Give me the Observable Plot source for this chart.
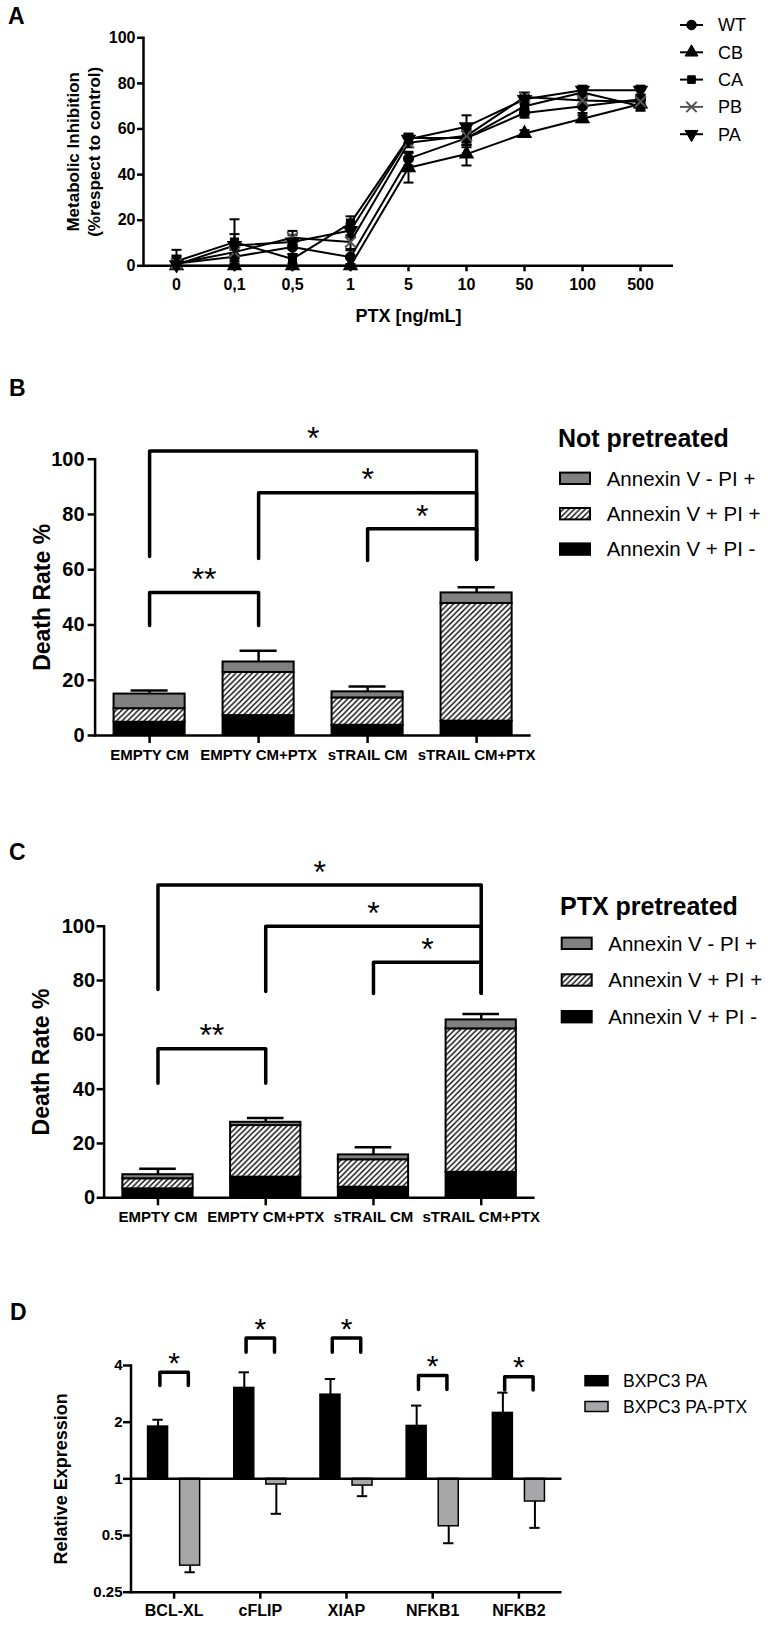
<!DOCTYPE html>
<html><head><meta charset="utf-8">
<script src="https://cdn.jsdelivr.net/npm/d3@7"></script>
<script src="https://cdn.jsdelivr.net/npm/@observablehq/plot@0.6"></script>
<style>
html,body{margin:0;padding:0;background:#fff;}
#page{position:relative;width:783px;height:1626px;overflow:hidden;}
</style></head><body><div id="page"></div>
<script>
// ---------------- DATA ----------------
// Panel A
const doses = ["0","0,1","0,5","1","5","10","50","100","500"];
const seriesNames = ["WT","CB","CA","PB","PA"];
const wtMean = [1, 4, 8.2, 3.8, 47, 56, 67, 70, 73];
const cbMean = [0, 0, 0, 0, 43, 49, 58, 64.5, 71];
const caMean = [2, 10.4, 3, 18.7, 56, 56, 70, 76, 70];
const pbMean = [1, 6, 12.3, 10.4, 54, 57, 74, 72.5, 72];
const paMean = [0.5, 8.9, 10.4, 15.5, 55.5, 61, 73, 77, 77];
const wtErr = [3, 3, 3, 3, 3, 3, 2, 3, 2];
const cbErr = [2, 0, 0, 0, 6.5, 5, 1.5, 1.5, 2];
const caErr = [5, 10, 2, 3, 2, 4, 2, 2.5, 2];
const pbErr = [2, 4, 3, 3, 2, 4, 2, 3, 2];
const paErr = [4, 5, 3, 3, 2, 5, 2, 2, 2];

// Panels B and C
const conditions = ["EMPTY CM", "EMPTY CM+PTX", "sTRAIL CM", "sTRAIL CM+PTX"];
const annexinLabels = ["Annexin V - PI +", "Annexin V + PI +", "Annexin V + PI -"];
const bAnnexinPosPIneg = [4.8, 7.2, 3.7, 5.2];
const bAnnexinPosPIpos = [4.9, 15.6, 9.9, 42.6];
const bAnnexinNegPIpos = [5.3, 3.8, 2.2, 3.8];
const bSem = [1.3, 4.1, 1.9, 2.1];
const bBracketFrom = [0, 1, 2, 0];
const bBracketTo = [3, 3, 3, 1];
const bBracketTop = [103, 87.9, 74.8, 51.8];
const bBracketLegFrom = [64.8, 64.1, 63.3, 39.8];
const bBracketLegTo = [63.7, 63.7, 63.7, 39.8];
const bBracketLabel = ["*", "*", "*", "**"];

const cAnnexinPosPIneg = [3.3, 7.6, 3.9, 9.4];
const cAnnexinPosPIpos = [3.7, 19.0, 10.1, 52.8];
const cAnnexinNegPIpos = [1.5, 1.2, 1.8, 3.3];
const cSem = [2.2, 1.6, 2.8, 2.2];
const cBracketFrom = [0, 1, 2, 0];
const cBracketTo = [3, 3, 3, 1];
const cBracketTop = [115.2, 100, 86.7, 54.9];
const cBracketLegFrom = [76.7, 76, 75.2, 42.2];
const cBracketLegTo = [75.3, 75.3, 75.3, 42.2];
const cBracketLabel = ["*", "*", "*", "**"];

// Panel D
const genes = ["BCL-XL", "cFLIP", "XIAP", "NFKB1", "NFKB2"];
const dSeries = ["BXPC3 PA", "BXPC3 PA-PTX"];
const bxpc3PA = [1.895, 3.04, 2.80, 1.91, 2.24];
const bxpc3PAsemTop = [2.06, 3.68, 3.39, 2.45, 2.87];
const bxpc3PAPTX = [0.346, 0.933, 0.921, 0.56, 0.758];
const bxpc3PAPTXsemBottom = [0.319, 0.652, 0.809, 0.455, 0.549];
const dBracketTop = [3.68, 5.6, 5.6, 3.54, 3.49];
const dBracketLeg = [3.13, 4.7, 4.7, 2.98, 2.96];
const dBracketLabel = ["*", "*", "*", "*", "*"];

// ---------------- HELPERS ----------------
const FONT = '"Liberation Sans", Arial, Helvetica, sans-serif';
const baseStyle = {fontFamily: FONT, color: "black", background: "transparent", overflow: "visible"};
const page = document.getElementById("page");
function place(node, top) {
  node.style.position = "absolute";
  node.style.left = "0px";
  node.style.top = top + "px";
  page.appendChild(node);
}
function addHatch(svg, id) {
  const defs = d3.select(svg).insert("defs", ":first-child");
  const p = defs.append("pattern").attr("id", id).attr("patternUnits", "userSpaceOnUse")
    .attr("width", 5.5).attr("height", 5.5);
  p.append("rect").attr("width", 5.5).attr("height", 5.5).attr("fill", "white");
  p.append("path").attr("d", "M-1.375,1.375L1.375,-1.375M0,5.5L5.5,0M4.125,6.875L6.875,4.125")
    .attr("stroke", "black").attr("stroke-width", 1.3);
}
const sqrt3 = Math.sqrt(3);
const triDown = {draw(ctx, size) {
  const y = -Math.sqrt(size / (sqrt3 * 3));
  ctx.moveTo(0, -y * 2); ctx.lineTo(-sqrt3 * y, y); ctx.lineTo(sqrt3 * y, y); ctx.closePath();
}};
const capSym = {draw(ctx, size) {
  const w = Math.sqrt(size / Math.PI);
  ctx.moveTo(-w, 0); ctx.lineTo(w, 0);
}};

// ---------------- PANEL A ----------------
const meansA = [wtMean, cbMean, caMean, pbMean, paMean];
const errsA = [wtErr, cbErr, caErr, pbErr, paErr];
const symbolsA = [d3.symbolCircle, d3.symbolTriangle, d3.symbolSquare, d3.symbolTimes, triDown];
const rowsA = [];
seriesNames.forEach((s, k) => doses.forEach((d, i) => rowsA.push({series: s, k, dose: d, v: meansA[k][i], e: errsA[k][i]})));

const markerMarks = seriesNames.map((s, k) => {
  const data = rowsA.filter(d => d.k === k);
  if (s === "PB") return Plot.dot(data, {x: "dose", y: "v", symbol: symbolsA[k], r: 5, stroke: "#555", strokeWidth: 2, fill: "none"});
  return Plot.dot(data, {x: "dose", y: "v", symbol: symbolsA[k], r: s === "CA" ? 4.3 : 4.8, fill: "black", stroke: "black"});
});

const plotA = Plot.plot({
  width: 783, height: 340, marginLeft: 143, marginRight: 110, marginTop: 37.3, marginBottom: 74.7,
  style: baseStyle,
  x: {type: "point", domain: doses, padding: 0.5},
  y: {domain: [0, 100]},
  marks: [
    Plot.axisY({ticks: [0, 20, 40, 60, 80, 100], tickSize: 6, tickPadding: 2, fontSize: 16, fontWeight: "bold", strokeWidth: 2.5, label: null}),
    Plot.axisX({tickSize: 6, tickPadding: 7, fontSize: 16, fontWeight: "bold", strokeWidth: 2.5, label: null}),
    Plot.frame({anchor: "left", strokeWidth: 2.5}),
    Plot.ruleY([0], {strokeWidth: 2.5}),
    Plot.ruleX(rowsA, {x: "dose", y1: d => Math.max(0, d.v - d.e), y2: d => d.v + d.e, strokeWidth: 2}),
    Plot.dot(rowsA, {x: "dose", y: d => d.v + d.e, symbol: capSym, r: 5, stroke: "black", strokeWidth: 2}),
    Plot.dot(rowsA.filter(d => d.v - d.e > 0), {x: "dose", y: d => d.v - d.e, symbol: capSym, r: 5, stroke: "black", strokeWidth: 2}),
    Plot.line(rowsA, {x: "dose", y: "v", z: "series", stroke: "black", strokeWidth: 2}),
    ...markerMarks,
    Plot.text(["PTX [ng/mL]"], {text: d => d, frameAnchor: "bottom", lineAnchor: "middle", dy: 50.7, fontSize: 18, fontWeight: "bold"}),
    Plot.text(["Metabolic Inhibition\n(%respect to control)"], {text: d => d, frameAnchor: "left", textAnchor: "middle", lineAnchor: "middle", rotate: -90, dx: -60.5, fontSize: 17, fontWeight: "bold", lineHeight: 1.2})
  ]
});
place(plotA, 0);

// ---------------- PANELS B & C ----------------
function deathPanel(o) {
  const idx = conditions.map((_, i) => i);
  const rows = idx.map(i => {
    const b = o.black[i], h = o.hatch[i], g = o.gray[i];
    return {i, b0: 0, b1: b, h1: b + h, g1: b + h + g, e: b + h + g + o.sem[i]};
  });
  const br = o.bFrom.map((f, k) => ({k, from: f, to: o.bTo[k], top: o.bTop[k], legA: o.bLegFrom[k], legB: o.bLegTo[k], label: o.bLabel[k]}));
  const brPts = br.flatMap(b => [
    {k: b.k, x: b.from, y: b.legA}, {k: b.k, x: b.from, y: b.top},
    {k: b.k, x: b.to, y: b.top}, {k: b.k, x: b.to, y: b.legB}]);
  const hw = 0.326, cap = 0.17;
  const barOpts = {x1: d => d.i - hw, x2: d => d.i + hw, stroke: "black", strokeWidth: 2};
  const svg = Plot.plot({
    width: 783, height: o.height, marginLeft: o.ml, marginRight: o.mr, marginTop: o.mt, marginBottom: o.mb,
    style: baseStyle,
    x: {domain: [-0.5, 3.5]},
    y: {domain: [0, 100]},
    marks: [
      Plot.axisY({ticks: [0, 20, 40, 60, 80, 100], tickSize: 7, tickPadding: o.ytp, fontSize: 20, fontWeight: "bold", strokeWidth: 2.5, label: null}),
      Plot.axisX({ticks: idx, tickFormat: i => conditions[i], tickSize: 8, tickPadding: o.xtp, fontSize: 15, fontWeight: "bold", strokeWidth: 2.5, label: null}),
      Plot.rect(rows, {...barOpts, y1: "b0", y2: "b1", fill: "black"}),
      Plot.rect(rows, {...barOpts, y1: "b1", y2: "h1", fill: `url(#${o.hatchId})`}),
      Plot.rect(rows, {...barOpts, y1: "h1", y2: "g1", fill: "#808080"}),
      Plot.ruleX(rows, {x: "i", y1: "g1", y2: "e", strokeWidth: 2.5}),
      Plot.ruleY(rows, {y: "e", x1: d => d.i - cap, x2: d => d.i + cap, strokeWidth: 2.5}),
      Plot.frame({anchor: "left", strokeWidth: 2.5}),
      Plot.ruleY([0], {strokeWidth: 2.5}),
      Plot.line(brPts, {x: "x", y: "y", z: "k", stroke: "black", strokeWidth: 3.5}),
      Plot.text(br, {x: d => (d.from + d.to) / 2, y: "top", text: "label", dy: -12.5, fontSize: 32, fontWeight: "normal"}),
      Plot.text(["Death Rate %"], {text: d => d, frameAnchor: "left", textAnchor: "middle", lineAnchor: "middle", rotate: -90, dx: o.ylDx, fontSize: 23, fontWeight: "bold"})
    ]
  });
  addHatch(svg, o.hatchId);
  return svg;
}

place(deathPanel({
  black: bAnnexinPosPIneg, hatch: bAnnexinPosPIpos, gray: bAnnexinNegPIpos, sem: bSem,
  bFrom: bBracketFrom, bTo: bBracketTo, bTop: bBracketTop, bLegFrom: bBracketLegFrom, bLegTo: bBracketLegTo, bLabel: bBracketLabel,
  hatchId: "hatchB", height: 410, ml: 94.6, mr: 252.4, mt: 88.7, mb: 45, ytp: 3.5, xtp: 5.6, ylDx: -52.6
}), 370);

place(deathPanel({
  black: cAnnexinPosPIneg, hatch: cAnnexinPosPIpos, gray: cAnnexinNegPIpos, sem: cSem,
  bFrom: cBracketFrom, bTo: cBracketTo, bTop: cBracketTop, bLegFrom: cBracketLegFrom, bLegTo: cBracketLegTo, bLabel: cBracketLabel,
  hatchId: "hatchC", height: 420, ml: 103.6, mr: 248.4, mt: 95.7, mb: 52.7, ytp: 2, xtp: 6, ylDx: -62.6
}), 830);

// ---------------- PANEL D ----------------
const dRows = genes.map((g, i) => ({i, pa: bxpc3PA[i], paTop: bxpc3PAsemTop[i], ptx: bxpc3PAPTX[i], ptxBot: bxpc3PAPTXsemBottom[i],
  top: dBracketTop[i], leg: dBracketLeg[i], label: dBracketLabel[i]}));
const dOff = 0.186, dHalf = 0.116, dCap = 0.06, dBr = 0.165;
const dBrPts = dRows.flatMap(d => [
  {k: d.i, x: d.i - dBr, y: d.leg}, {k: d.i, x: d.i - dBr, y: d.top},
  {k: d.i, x: d.i + dBr, y: d.top}, {k: d.i, x: d.i + dBr, y: d.leg}]);
const plotD = Plot.plot({
  width: 783, height: 336, marginLeft: 130.5, marginRight: 221.5, marginTop: 75, marginBottom: 34.3,
  style: baseStyle,
  x: {domain: [-0.5, 4.5]},
  y: {type: "log", base: 2, domain: [0.25, 4]},
  marks: [
    Plot.axisY({ticks: [0.25, 0.5, 1, 2, 4], tickFormat: d => String(d), tickSize: 7.5, tickPadding: 1, fontSize: 15, fontWeight: "bold", strokeWidth: 2.5, label: null}),
    Plot.axisX({ticks: genes.map((_, i) => i), tickFormat: i => genes[i], tickSize: 7, tickPadding: 5.5, fontSize: 16, fontWeight: "bold", strokeWidth: 2.5, label: null}),
    Plot.rect(dRows, {x1: d => d.i - dOff - dHalf, x2: d => d.i - dOff + dHalf, y1: () => 1, y2: "pa", fill: "black", stroke: "black", strokeWidth: 1.5}),
    Plot.rect(dRows, {x1: d => d.i + dOff - dHalf, x2: d => d.i + dOff + dHalf, y1: () => 1, y2: "ptx", fill: "#a7a7aa", stroke: "black", strokeWidth: 1.5}),
    Plot.ruleX(dRows, {x: d => d.i - dOff, y1: "pa", y2: "paTop", strokeWidth: 2}),
    Plot.ruleY(dRows, {y: "paTop", x1: d => d.i - dOff - dCap, x2: d => d.i - dOff + dCap, strokeWidth: 2}),
    Plot.ruleX(dRows, {x: d => d.i + dOff, y1: "ptx", y2: "ptxBot", strokeWidth: 2}),
    Plot.ruleY(dRows, {y: "ptxBot", x1: d => d.i + dOff - dCap, x2: d => d.i + dOff + dCap, strokeWidth: 2}),
    Plot.ruleY([1], {strokeWidth: 2.5}),
    Plot.frame({anchor: "left", strokeWidth: 2.5}),
    Plot.ruleY([0.25], {strokeWidth: 2.5}),
    Plot.line(dBrPts, {x: "x", y: "y", z: "k", stroke: "black", strokeWidth: 3.5}),
    Plot.text(dRows, {x: "i", y: "top", text: "label", dy: -9, fontSize: 30, fontWeight: "normal"}),
    Plot.text(["Relative Expression"], {text: d => d, frameAnchor: "left", textAnchor: "middle", lineAnchor: "middle", rotate: -90, dx: -69.5, fontSize: 18, fontWeight: "bold"})
  ]
});
place(plotD, 1290);

// ---------------- LEGENDS & PANEL LETTERS ----------------
const ov = d3.select(page).append("svg").attr("width", 783).attr("height", 1626)
  .style("position", "absolute").style("left", "0px").style("top", "0px").style("font-family", FONT);
addHatch(ov.node(), "hatchL");

[["A", 8, 23.5], ["B", 9, 395.5], ["C", 9, 859.5], ["D", 10, 1319.5]].forEach(([t, x, y]) =>
  ov.append("text").attr("x", x).attr("y", y).attr("font-size", 23).attr("font-weight", "bold").text(t));

// Legend A
seriesNames.forEach((s, k) => {
  const cy = 25 + k * 27.3;
  const g = ov.append("g");
  g.append("line").attr("x1", 680).attr("x2", 703).attr("y1", cy).attr("y2", cy).attr("stroke", s === "PB" ? "#555" : "black").attr("stroke-width", 2);
  const r = s === "CA" ? 4.3 : 4.8;
  g.append("path").attr("d", d3.symbol(symbolsA[k], Math.PI * r * r)())
    .attr("transform", `translate(691.5,${cy})`)
    .attr("fill", s === "PB" ? "none" : "black").attr("stroke", s === "PB" ? "#555" : "black").attr("stroke-width", s === "PB" ? 2 : 1);
  g.append("text").attr("x", 718).attr("y", cy + 0.358 * 18).attr("font-size", 18).text(s);
});

// Legends B and C
function annexLegend(title, tx, ty, sx, textX, y0, dy) {
  ov.append("text").attr("x", tx).attr("y", ty).attr("font-size", 25).attr("font-weight", "bold").text(title);
  const fills = ["#808080", "url(#hatchL)", "black"];
  annexinLabels.forEach((lab, k) => {
    const cy = y0 + k * dy;
    ov.append("rect").attr("x", sx).attr("y", cy - 5.7).attr("width", 30).attr("height", 11.4)
      .attr("fill", fills[k]).attr("stroke", "black").attr("stroke-width", 2);
    ov.append("text").attr("x", textX).attr("y", cy + 0.358 * 20.5).attr("font-size", 20.5).text(lab);
  });
}
annexLegend("Not pretreated", 558, 446.7, 560, 606.7, 478.3, 35.4);
annexLegend("PTX pretreated", 560, 915, 561.7, 608.3, 943.3, 36.7);

// Legend D
const dFills = ["black", "#a7a7aa"];
dSeries.forEach((s, k) => {
  const cy = 1380.7 + k * 25.8;
  ov.append("rect").attr("x", 585).attr("y", cy - 5).attr("width", 23).attr("height", 10)
    .attr("fill", dFills[k]).attr("stroke", "black").attr("stroke-width", 1.5);
  ov.append("text").attr("x", 623).attr("y", cy + 0.358 * 17.5).attr("font-size", 17.5).text(s);
});
</script>
</body></html>
